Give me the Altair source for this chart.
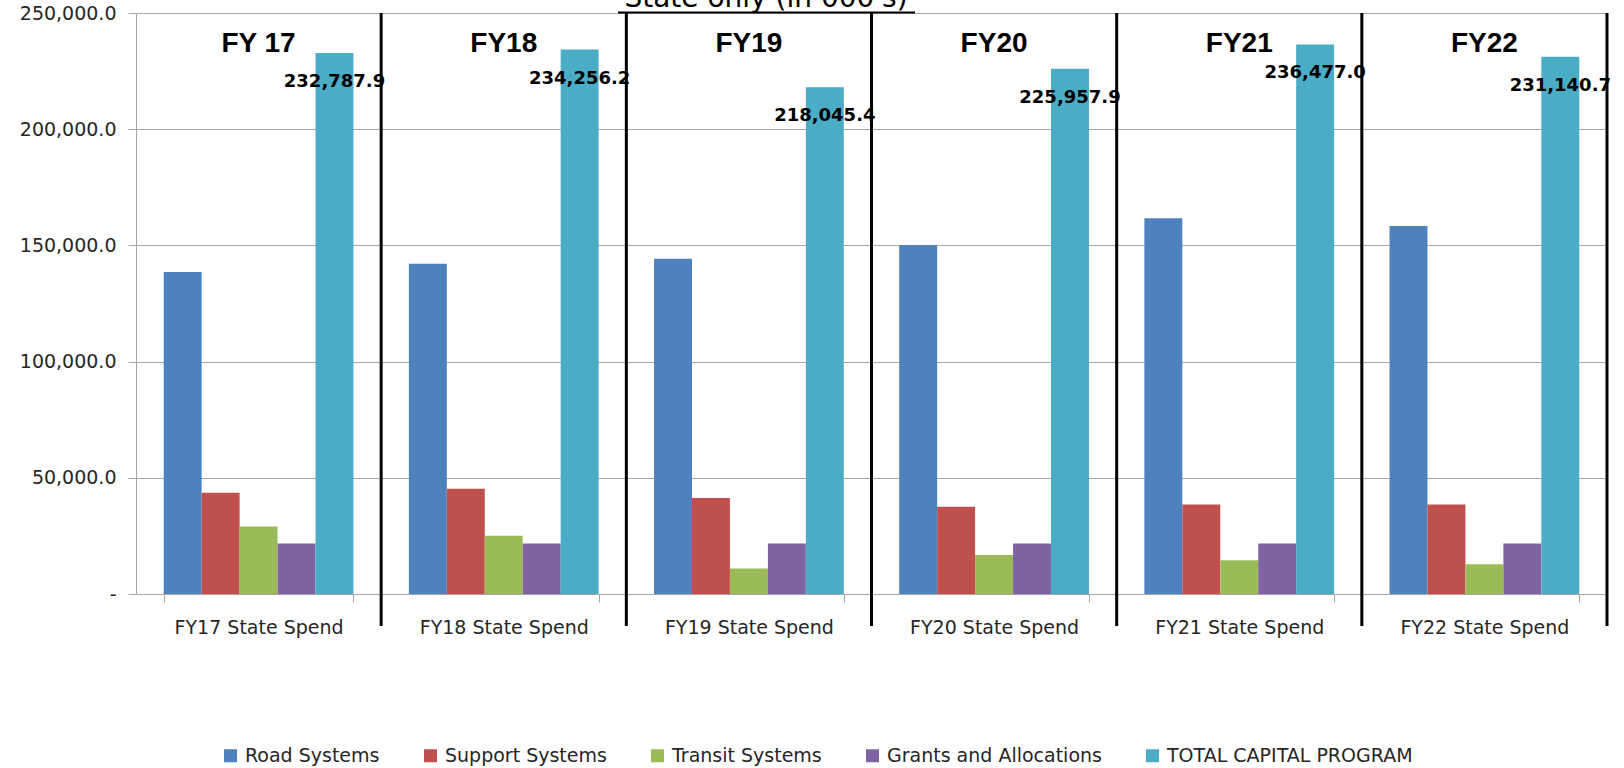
import altair as alt
import pandas as pd

categories = ["FY17 State Spend", "FY18 State Spend", "FY19 State Spend",
              "FY20 State Spend", "FY21 State Spend", "FY22 State Spend"]
headers = ["FY 17", "FY18", "FY19", "FY20", "FY21", "FY22"]
series = ["Road Systems", "Support Systems", "Transit Systems",
          "Grants and Allocations", "TOTAL CAPITAL PROGRAM"]
colors = ["#4F81BD", "#C0504D", "#9BBB59", "#8064A2", "#4BACC6"]

road = [138600, 142100, 144300, 150200, 161700, 158300]
support = [43600, 45300, 41300, 37500, 38500, 38500]
transit = [29000, 25100, 11000, 16800, 14500, 12800]
grants = [21700, 21700, 21700, 21700, 21700, 21700]
total = [232787.9, 234256.2, 218045.4, 225957.9, 236477.0, 231140.7]

title_text = "State only (in 000's)"

rows = []
for i, c in enumerate(categories):
    for s, vals in zip(series, [road, support, transit, grants, total]):
        rows.append({"cat": c, "series": s, "value": vals[i]})
df = pd.DataFrame(rows)
df_cat = pd.DataFrame({"cat": categories, "header": headers})
df_title = pd.DataFrame({"t": [title_text]})

W, H = 1471, 581
FONT = "DejaVu Sans"
GRID = "#A6A6A6"

x_enc = alt.X("cat:N", sort=categories,
              scale=alt.Scale(paddingInner=0.226, paddingOuter=0.113),
              axis=alt.Axis(title=None, labelAngle=0, labelFont=FONT, labelFontSize=19,
                            labelColor="#262626", tickBand="extent", tickSize=8,
                            tickColor=GRID, domainColor=GRID, labelPadding=16, grid=False))
y_enc = alt.Y("value:Q", scale=alt.Scale(domain=[0, 250000], nice=False),
              axis=alt.Axis(title=None, values=[0, 50000, 100000, 150000, 200000, 250000],
                            labelExpr="datum.value == 0 ? '-' : format(datum.value, ',.1f')",
                            labelFont=FONT, labelFontSize=19, labelColor="#262626",
                            gridColor=GRID, domainColor=GRID, tickColor=GRID,
                            tickSize=8, labelPadding=12))

bars = alt.Chart(df).mark_bar().encode(
    x=x_enc,
    xOffset=alt.XOffset("series:N", sort=series, scale=alt.Scale(domain=series, paddingInner=0, paddingOuter=0)),
    y=y_enc,
    color=alt.Color("series:N", sort=series,
                    scale=alt.Scale(domain=series, range=colors),
                    legend=alt.Legend(title=None, orient="none", legendX=85, legendY=733,
                                      direction="horizontal", columns=5,
                                      symbolType="square", symbolSize=169,
                                      symbolStrokeWidth=0, labelFont=FONT,
                                      labelFontSize=19, labelColor="#262626",
                                      columnPadding=41, labelOffset=5, labelLimit=400)),
)

labels = alt.Chart(df).transform_filter(
    alt.datum.series == "TOTAL CAPITAL PROGRAM"
).mark_text(font=FONT, fontWeight="bold", fontSize=18, dy=29, baseline="middle",
            color="black").encode(
    x=alt.X("cat:N", sort=categories),
    xOffset=alt.XOffset("series:N", sort=series),
    y="value:Q",
    text=alt.Text("value:Q", format=",.1f"),
)

heads = alt.Chart(df_cat).mark_text(font="Liberation Sans", fontWeight="bold",
                                    fontSize=28, baseline="middle", color="black").encode(
    x=alt.X("cat:N", sort=categories),
    y=alt.value(31),
    text="header:N",
)

inner = alt.layer(bars, labels, heads)

seps = alt.Chart(df_cat).mark_rule(color="black", strokeWidth=3).encode(
    x=alt.X("cat:N", sort=categories, bandPosition=1,
            scale=alt.Scale(paddingInner=0, paddingOuter=0), axis=None),
    y=alt.value(0),
    y2=alt.value(613),
)

title = alt.Chart(df_title).mark_text(font=FONT, fontSize=28, baseline="alphabetic",
                                      align="center", color="black").encode(
    x=alt.value(630), y=alt.value(-6), text="t:N")
underline = alt.Chart(df_title).mark_rule(color="black", strokeWidth=2).encode(
    x=alt.value(482), x2=alt.value(779), y=alt.value(-0.5))

chart = alt.layer(inner, seps, title, underline).resolve_scale(
    x="independent"
).properties(
    width=W, height=H,
    autosize=alt.AutoSizeParams(type="none"),
    padding={"left": 136, "top": 13, "right": 17, "bottom": 174},
).configure_view(strokeWidth=0)

chart.save("out.html", embed_options={"renderer": "svg", "actions": False})
